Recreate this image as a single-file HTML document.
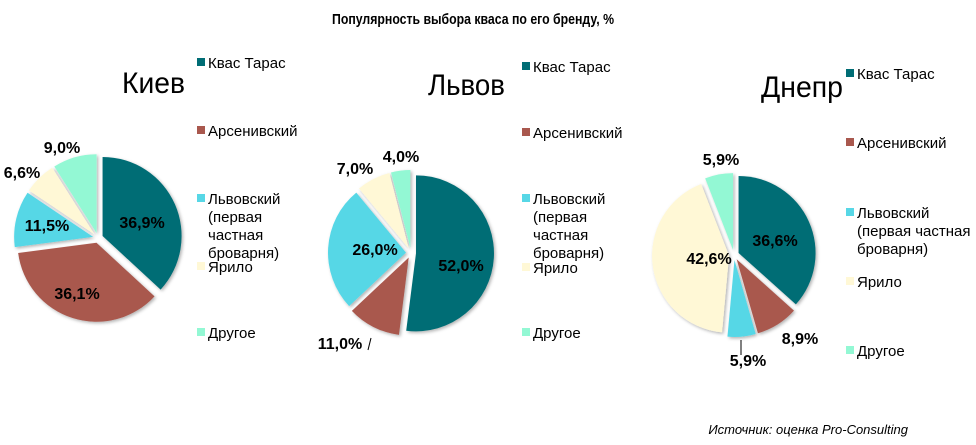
<!DOCTYPE html>
<html><head><meta charset="utf-8"><style>
body{margin:0;background:#fff}
svg{display:block;font-family:"Liberation Sans",Arial,sans-serif}
.l{font-size:15px;fill:#000}
.b{font-size:16px;font-weight:bold;fill:#000}
.c{font-size:30px;fill:#000}
</style></head><body>
<svg id="s" width="976" height="445" viewBox="0 0 976 445">
<defs><filter id="sh" x="-20%" y="-20%" width="140%" height="140%"><feDropShadow dx="1.5" dy="1.5" stdDeviation="1.5" flood-color="#000" flood-opacity="0.3"/></filter></defs>
<text x="473" y="24" text-anchor="middle" font-weight="bold" font-size="15" textLength="282" lengthAdjust="spacingAndGlyphs">Популярность выбора кваса по его бренду, %</text>
<g id="pies" filter="url(#sh)"></g>
<text class="c" x="122" y="93" textLength="63" lengthAdjust="spacingAndGlyphs">Киев</text>
<text class="c" x="428" y="95" textLength="77" lengthAdjust="spacingAndGlyphs">Львов</text>
<text class="c" x="761" y="97" textLength="82" lengthAdjust="spacingAndGlyphs">Днепр</text>
<g id="leg"></g>
<g class="b">
<text class="b" x="142" y="228" text-anchor="middle">36,9%</text>
<text class="b" x="77" y="299" text-anchor="middle">36,1%</text>
<text class="b" x="47" y="231" text-anchor="middle">11,5%</text>
<text class="b" x="22" y="178" text-anchor="middle">6,6%</text>
<text class="b" x="62" y="153" text-anchor="middle">9,0%</text>
<text class="b" x="461" y="271" text-anchor="middle">52,0%</text>
<text class="b" x="375" y="255" text-anchor="middle">26,0%</text>
<text class="b" x="340" y="349" text-anchor="middle">11,0%</text>
<text class="b" x="355" y="174" text-anchor="middle">7,0%</text>
<text class="b" x="401" y="162" text-anchor="middle">4,0%</text>
<text class="b" x="775" y="246" text-anchor="middle">36,6%</text>
<text class="b" x="709" y="264" text-anchor="middle">42,6%</text>
<text class="b" x="800" y="344" text-anchor="middle">8,9%</text>
<text class="b" x="748" y="366" text-anchor="middle">5,9%</text>
<text class="b" x="721" y="165" text-anchor="middle">5,9%</text>
</g>
<line x1="371" y1="338" x2="368" y2="350" stroke="#000"/>
<line x1="741" y1="340" x2="741" y2="355" stroke="#000"/>
<text x="908" y="434" text-anchor="end" font-style="italic" font-size="13">Источник: оценка Pro-Consulting</text>
</svg>
<script>
var C=["#006d75","#a9584e","#57d7e6","#fff8d6","#93f8d4"];
var P=[[98,238,79,[36.9,36.1,11.5,6.6,9.0]],[411,253,78,[52.0,11.0,26.0,7.0,4.0]],[734,255,77,[36.6,8.9,5.9,42.6,5.9]]];
var g=document.getElementById('pies'),h='';
P.forEach(function(p,k){var a=0,tot=p[3].reduce(function(s,v){return s+v},0);
p[3].forEach(function(v,i){var a0=a/tot*2*Math.PI,a1=(a+v)/tot*2*Math.PI;a+=v;var m=(a0+a1)/2,e=5;
var cx=p[0]+e*Math.sin(m),cy=p[1]-e*Math.cos(m),r=p[2];
var x0=cx+r*Math.sin(a0),y0=cy-r*Math.cos(a0),x1=cx+r*Math.sin(a1),y1=cy-r*Math.cos(a1);
h+='<path d="M'+cx+' '+cy+'L'+x0+' '+y0+'A'+r+' '+r+' 0 '+((a1-a0)>Math.PI?1:0)+' 1 '+x1+' '+y1+'Z" fill="'+C[i]+'"/>';});});
g.innerHTML=h;
var L=[[197,[68,136,204,272,338]],[522,[72,138,204,273,338]],[846,[79,148,218,287,356]]];
var T=[["Квас Тарас"],["Арсенивский"],["Львовский","(первая","частная","броварня)"],["Ярило"],["Другое"]];
var T3=[["Квас Тарас"],["Арсенивский"],["Львовский","(первая частная","броварня)"],["Ярило"],["Другое"]];
var lh='';
L.forEach(function(l,k){var tt=k==2?T3:T;l[1].forEach(function(y,i){lh+='<rect x="'+l[0]+'" y="'+(y-10)+'" width="8" height="8" fill="'+C[i]+'"/>';
tt[i].forEach(function(s,j){lh+='<text class="l" x="'+(l[0]+11)+'" y="'+(y+j*18)+'">'+s+'</text>';});});});
document.getElementById('leg').innerHTML=lh;
</script>
</body></html>
